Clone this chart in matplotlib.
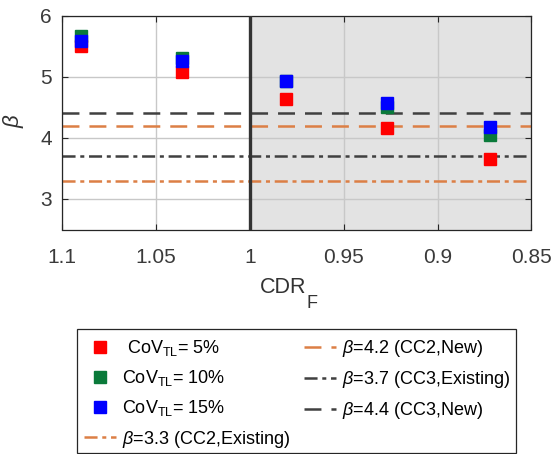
import numpy as np
import matplotlib
matplotlib.use('Agg')
import matplotlib.pyplot as plt
from matplotlib.lines import Line2D

plt.rcParams['font.family'] = ['Liberation Sans', 'DejaVu Sans']
plt.rcParams['mathtext.fontset'] = 'custom'
plt.rcParams['mathtext.rm'] = 'Liberation Sans'
plt.rcParams['mathtext.it'] = 'Liberation Sans:italic'
plt.rcParams['lines.scale_dashes'] = False

# data
cdr = [1.09, 1.036, 0.981, 0.927, 0.872]
beta_cov5 = [5.50, 5.08, 4.63, 4.16, 3.66]
beta_cov10 = [5.66, 5.31, 4.93, 4.50, 4.05]
beta_cov15 = [5.58, 5.265, 4.93, 4.575, 4.18]
cov_labels = [' CoV$_{\\rm TL}$= 5%', 'CoV$_{\\rm TL}$= 10%', 'CoV$_{\\rm TL}$= 15%']

targets = [3.3, 4.2, 3.7, 4.4]
target_labels = ['$\\beta$=3.3 (CC2,Existing)', '$\\beta$=4.2 (CC2,New)',
                 '$\\beta$=3.7 (CC3,Existing)', '$\\beta$=4.4 (CC3,New)']

xticks = [1.1, 1.05, 1, 0.95, 0.9, 0.85]
xticklabels = ['1.1', '1.05', '1', '0.95', '0.9', '0.85']
yticks = [3, 4, 5, 6]

orange = '#dc7f45'
dgray = '#404040'
dash = (0, (12.2, 7.2))
dashdot = (0, (9.4, 3.4, 2.9, 3.4))
styles = [(orange, dashdot), (orange, dash), (dgray, dashdot), (dgray, dash)]

W, H = 554, 454
fig = plt.figure(figsize=(W/100, H/100), dpi=100)
ax = fig.add_axes([62.3/W, 1-229.5/H, 469/W, 213.9/H])

ax.axvspan(0.85, 1.0, color='#e3e3e3', zorder=0, lw=0)
ax.grid(True, color='#c8c8c8', lw=1.0, zorder=1)
ax.set_axisbelow(True)

for yv, (c, ls) in zip(targets, styles):
    ax.axhline(yv, color=c, ls=ls, lw=1.8, zorder=2)
ax.axvline(1.0, color='#333333', lw=2.4, zorder=3)

ms = 8
ax.plot(cdr, beta_cov5, 's', color='#ff0000', ms=ms, mec='#ff0000', zorder=4)
ax.plot(cdr, beta_cov10, 's', color='#0a7a3a', ms=ms, mec='#0a7a3a', zorder=5)
ax.plot(cdr, beta_cov15, 's', color='#0000ff', ms=ms, mec='#0000ff', zorder=6)

ax.set_xlim(1.1, 0.85)
ax.set_ylim(2.5, 6)
ax.set_xticks(xticks)
ax.set_xticklabels(xticklabels)
ax.set_yticks(yticks)
ax.tick_params(direction='in', length=4.3, width=0.8, top=True, right=True,
               labelsize=15, labelcolor='#3a3a3a', color='#262626')
ax.tick_params(axis='x', pad=13)
ax.tick_params(axis='y', pad=7.5)
for s in ax.spines.values():
    s.set_color('#262626')
    s.set_linewidth(0.9)

# x label with a big, low subscript as in the original
fig.text(306/W, 1-293.3/H, 'CDR', fontsize=15.5, color='#333333', ha='right', va='baseline')
fig.text(307/W, 1-308/H, 'F', fontsize=13, color='#333333', ha='left', va='baseline')

fig.text(13/W, 1-121/H, '$\\beta$', fontsize=16, color='#333333',
         rotation=90, ha='center', va='center')

handles = [
    Line2D([], [], marker='s', ls='none', color='#ff0000', ms=8),
    Line2D([], [], marker='s', ls='none', color='#0a7a3a', ms=8),
    Line2D([], [], marker='s', ls='none', color='#0000ff', ms=8),
]
for c, ls in styles:
    handles.append(Line2D([], [], color=c, ls=ls, lw=1.8))
labels = cov_labels + target_labels

leg = fig.legend(handles, labels, loc='upper left',
                 bbox_to_anchor=(77.3/W, 1-331.5/H), bbox_transform=fig.transFigure,
                 ncol=2, fontsize=13, frameon=False,
                 borderaxespad=0, borderpad=0.35,
                 handlelength=1.8, handletextpad=0.35, columnspacing=0.72,
                 labelspacing=0.57)

# legend box drawn separately so it sits where the original's does
fig.add_artist(plt.Rectangle((77.3/W, 1-452.7/H), (516-77.3)/W, (452.7-329)/H,
                             transform=fig.transFigure, fill=False,
                             ec='#262626', lw=0.9))

fig.savefig('out.png', dpi=100)
